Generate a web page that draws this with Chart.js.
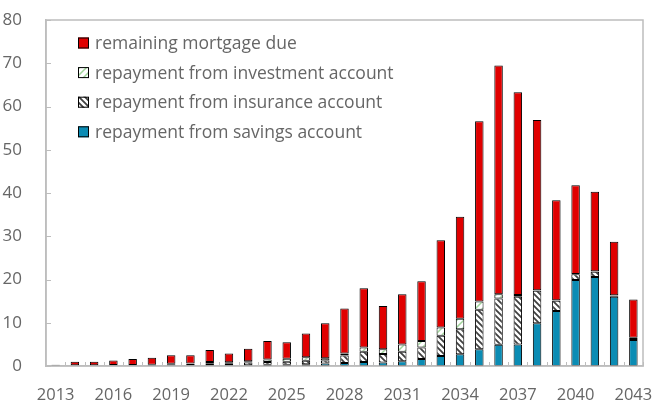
<!DOCTYPE html>
<html>
<head>
<meta charset="utf-8">
<script src="https://cdn.jsdelivr.net/npm/chart.js@4/dist/chart.umd.min.js"></script>
<style>
  html, body { margin: 0; padding: 0; background: #fff; }
  #wrap { width: 655px; height: 400px; }
</style>
</head>
<body>
<div id="wrap"><canvas id="mortgageChart" width="655" height="400"></canvas></div>
<script>
// --- data ---
const years = [2013, 2014, 2015, 2016, 2017, 2018, 2019, 2020, 2021, 2022, 2023, 2024, 2025, 2026, 2027,
               2028, 2029, 2030, 2031, 2032, 2033, 2034, 2035, 2036, 2037, 2038, 2039, 2040, 2041, 2042, 2043];
const tickYears = [2013, 2016, 2019, 2022, 2025, 2028, 2031, 2034, 2037, 2040, 2043];

const savingsAccount = [0.05, 0.05, 0.05, 0.05, 0.05, 0.05, 0.1, 0.1, 0.15, 0.15, 0.2, 0.3, 0.3, 0.4, 0.6,
                        0.7, 0.9, 0.8, 1.1, 1.6, 2.3, 2.7, 3.9, 4.9, 5.0, 9.9, 12.7, 19.9, 20.6, 16.0, 6.0];
const insuranceAccount = [0.1, 0.1, 0.1, 0.15, 0.15, 0.2, 0.3, 0.4, 0.5, 0.5, 0.6, 0.6, 0.7, 0.8, 0.7,
                          1.7, 2.4, 2.0, 2.2, 2.7, 4.7, 5.8, 9.1, 10.7, 11.0, 7.5, 2.4, 1.3, 1.2, 0.3, 0.5];
const investmentAccount = [0.05, 0.05, 0.05, 0.05, 0.05, 0.05, 0.1, 0.1, 0.3, 0.2, 0.3, 0.6, 0.7, 0.8, 0.5,
                           0.5, 1.0, 1.1, 1.7, 1.5, 1.9, 2.4, 1.9, 1.0, 0.4, 0.1, 0.1, 0.1, 0.1, 0.05, 0.05];
const remainingDue = [0.1, 0.8, 0.8, 1.05, 1.35, 1.6, 2.0, 1.9, 2.75, 2.05, 2.9, 4.3, 3.8, 5.5, 8.1,
                      10.4, 13.7, 10.0, 11.6, 13.8, 20.2, 23.6, 41.7, 52.9, 46.9, 39.4, 23.1, 20.5, 18.4, 12.35, 8.85];

const yTicks = [0, 10, 20, 30, 40, 50, 60, 70, 80];

// --- fills ---
const makeHatch = (bg, ink, dir, size, lw) => {
    const c = document.createElement('canvas');
    c.width = size; c.height = size;
    const g = c.getContext('2d');
    g.fillStyle = bg;
    g.fillRect(0, 0, size, size);
    g.strokeStyle = ink;
    g.lineWidth = lw;
    g.beginPath();
    for (let k = -1; k <= 1; k++) {
        if (dir === 'back') {       // "\" stripes
            g.moveTo(k * size - 1, -1);
            g.lineTo(k * size + size + 1, size + 1);
        } else {                    // "/" stripes
            g.moveTo(k * size - 1, size + 1);
            g.lineTo(k * size + size + 1, -1);
        }
    }
    g.stroke();
    return g.createPattern(c, 'repeat');
};

const ctx = document.getElementById('mortgageChart').getContext('2d');
const insuranceFill = makeHatch('#ffffff', '#404040', 'back', 6, 1.8);
const investmentFill = makeHatch('#ffffff', '#9fd49a', 'fwd', 7, 1.5);

const GREY = '#666666';
const AXIS = '#bdbdbd';

// frame round the plot + small inward ticks
const framePlugin = {
    id: 'frame',
    afterDraw(chart) {
        const { ctx, chartArea: a, scales } = chart;
        ctx.save();
        ctx.strokeStyle = AXIS;
        ctx.lineWidth = 1.5;
        ctx.strokeRect(a.left, a.top, a.right - a.left, a.bottom - a.top);
        const xs = scales.x;
        const ys = scales.y;
        const step = xs.getPixelForValue(1) - xs.getPixelForValue(0);
        ctx.lineWidth = 1;
        ctx.beginPath();
        for (let i = 0; i < years.length; i++) {
            const px = Math.round(xs.getPixelForValue(i) + step / 2) + 0.5;
            ctx.moveTo(px, a.bottom);
            ctx.lineTo(px, a.bottom - 4);
        }
        yTicks.forEach(v => {
            const py = Math.round(ys.getPixelForValue(v)) + 0.5;
            ctx.moveTo(a.left, py);
            ctx.lineTo(a.left + 5, py);
        });
        ctx.stroke();
        ctx.restore();
    }
};

// legend drawn inside the plot, top left
const legendPlugin = {
    id: 'innerLegend',
    afterDraw(chart) {
        const { ctx, chartArea: a } = chart;
        const order = [3, 2, 1, 0];
        ctx.save();
        ctx.font = '17.5px "Open Sans"';
        ctx.textBaseline = 'middle';
        order.forEach((di, row) => {
            const ds = chart.data.datasets[di];
            const y = a.top + 23 + row * 29.6;
            const x = a.left + 32;
            ctx.fillStyle = ds.backgroundColor;
            ctx.fillRect(x, y - 5.5, 11, 11);
            ctx.strokeStyle = '#000';
            ctx.lineWidth = 1;
            ctx.strokeRect(x + 0.5, y - 5, 10, 10);
            ctx.fillStyle = GREY;
            ctx.fillText(ds.label, x + 17, y + 1);
        });
        ctx.restore();
    }
};

new Chart(ctx, {
    type: 'bar',
    data: {
        labels: years,
        datasets: [
            { label: 'repayment from savings account', data: savingsAccount, backgroundColor: '#0b8cb4' },
            { label: 'repayment from insurance account', data: insuranceAccount, backgroundColor: insuranceFill },
            { label: 'repayment from investment account', data: investmentAccount, backgroundColor: investmentFill },
            { label: 'remaining mortgage due', data: remainingDue, backgroundColor: '#e00000' }
        ]
    },
    options: {
        responsive: false,
        animation: false,
        layout: { autoPadding: false, padding: { top: 20, right: 12, left: 0, bottom: 0 } },
        datasets: {
            bar: {
                borderColor: '#000',
                borderWidth: 1,
                borderSkipped: false,
                barPercentage: 0.44,
                categoryPercentage: 1
            }
        },
        plugins: {
            legend: { display: false },
            tooltip: { enabled: false }
        },
        scales: {
            x: {
                stacked: true,
                grid: { display: false },
                border: { color: AXIS, width: 1.5 },
                ticks: {
                    color: GREY,
                    font: { family: 'Open Sans', size: 16.5 },
                    autoSkip: false,
                    maxRotation: 0,
                    padding: 11,
                    callback: (v, i) => tickYears.includes(years[i]) ? String(years[i]) : ''
                },
                afterFit: (s) => { s.height = 34; s.paddingLeft = 0; s.paddingRight = 0; }
            },
            y: {
                stacked: true,
                min: 0,
                max: 80,
                grid: { display: false },
                border: { color: AXIS, width: 1.5 },
                afterBuildTicks: (s) => { s.ticks = yTicks.map(v => ({ value: v })); },
                ticks: {
                    color: GREY,
                    font: { family: 'Open Sans', size: 17 },
                    padding: 16
                },
                afterFit: (s) => { s.width = 46; s.paddingTop = 0; s.paddingBottom = 0; }
            }
        }
    },
    plugins: [framePlugin, legendPlugin]
});
</script>
</body>
</html>
